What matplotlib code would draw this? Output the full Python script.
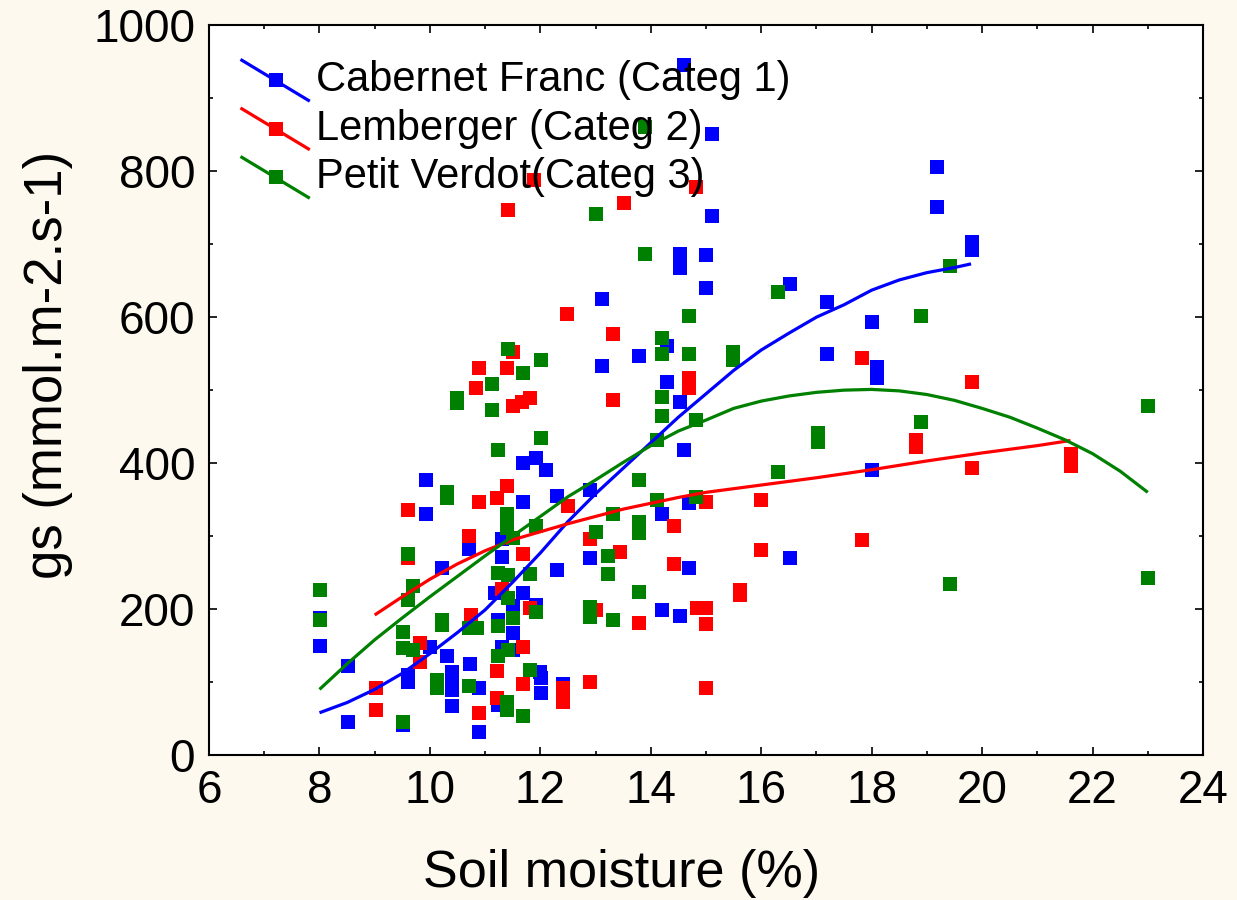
import matplotlib
matplotlib.use("Agg")
import matplotlib.pyplot as plt
from matplotlib.ticker import MultipleLocator

plt.rcParams['font.family'] = ['Liberation Sans', 'DejaVu Sans']

# Cabernet Franc (Categ 1)
cf_x = [13.11, 13.11, 9.92, 9.92, 11.68, 11.92, 12.10, 11.68, 12.31, 12.90, 11.30, 11.30,
        10.71, 10.21, 12.31, 12.90, 11.18, 11.68, 11.92, 11.50, 8.01, 11.23, 11.50, 8.01,
        10.00, 8.51, 10.31, 10.72, 11.30, 11.50, 9.60, 9.60, 10.40, 10.40, 10.40, 10.40,
        10.89, 11.23, 11.99, 12.02, 12.02, 12.41, 8.51, 9.51, 10.89,
        17.20, 18.00, 17.20, 18.10, 18.10, 14.29, 13.78, 14.29, 14.52, 14.60, 18.00, 14.20,
        14.70, 16.52, 14.70, 14.20, 14.52,
        19.19, 19.19, 19.81, 19.81, 15.10, 15.00, 15.00, 16.52,
        14.60, 15.10, 14.52, 14.52]
cf_y = [625, 533, 377, 330, 400, 407, 390, 347, 355, 363, 296, 271,
        282, 256, 253, 270, 222, 222, 206, 204, 188, 185, 167, 149,
        148, 122, 136, 125, 148, 144, 110, 100, 114, 103, 89, 67,
        92, 68, 114, 105, 85, 98, 45, 41, 32,
        621, 593, 549, 532, 516, 560, 547, 511, 484, 418, 390, 331,
        345, 270, 256, 199, 190,
        806, 751, 703, 692, 738, 685, 640, 645,
        945, 851, 687, 667]

# Lemberger (Categ 2)
lb_x = [12.49, 13.31, 11.50, 10.89, 11.40, 10.83, 11.50, 11.66, 11.81, 13.31, 11.40, 11.21,
        10.89, 9.60, 12.50, 10.71, 12.90, 9.60, 11.68, 13.45, 11.30, 11.81, 10.75, 9.82,
        11.68, 9.82, 9.02, 9.02, 11.21, 11.21, 10.89, 11.68, 12.41, 12.41, 12.90,
        14.70, 14.70, 17.82, 19.81, 18.80, 18.80, 19.81, 16.00, 15.00, 14.42, 16.00, 17.82,
        14.42, 15.61, 15.61, 13.00, 13.78, 14.83, 15.00, 15.00, 15.00, 21.61, 21.61,
        11.88, 14.81, 11.41, 13.51]
lb_y = [604, 577, 552, 530, 530, 503, 478, 484, 489, 486, 368, 352,
        347, 336, 341, 300, 296, 270, 275, 278, 228, 201, 192, 153,
        148, 128, 92, 62, 115, 78, 57, 97, 92, 73, 100,
        516, 503, 544, 511, 432, 422, 393, 349, 347, 314, 281, 295,
        262, 226, 219, 199, 181, 201, 201, 180, 92, 412, 396,
        788, 778, 747, 757]

# Petit Verdot (Categ 3)
pv_x = [11.41, 12.02, 11.68, 11.12, 10.49, 10.49, 11.12, 12.02, 11.23, 10.31, 10.31, 11.40,
        11.40, 11.50, 11.92, 13.00, 9.60, 9.69, 9.60, 8.01, 11.23, 11.41, 11.81, 13.22,
        13.22, 11.41, 11.92, 12.90, 12.90, 13.31, 8.01, 10.21, 10.21, 10.71, 10.85, 11.23,
        11.50, 9.51, 9.51, 9.69, 11.23, 11.41, 11.81, 10.12, 10.12, 10.71, 11.40, 11.40,
        11.68, 9.51,
        14.70, 18.90, 14.20, 14.20, 14.70, 15.48, 15.48, 14.20, 14.20, 14.81, 14.11, 18.90,
        17.02, 17.02, 13.78, 16.30, 14.11, 14.81, 13.31, 13.78, 13.78, 13.78, 19.41,
        19.41, 16.30, 23.00, 23.00,
        13.89, 13.00, 13.89]
pv_y = [557, 541, 523, 509, 489, 482, 473, 434, 418, 360, 352, 331,
        311, 297, 314, 306, 275, 232, 212, 226, 249, 247, 248, 273,
        248, 215, 196, 203, 189, 185, 185, 185, 178, 174, 174, 177,
        188, 168, 147, 144, 136, 144, 116, 103, 92, 95, 73, 62,
        53, 45,
        601, 601, 571, 550, 549, 552, 541, 491, 464, 459, 432, 456,
        441, 429, 377, 388, 349, 354, 330, 319, 304, 223, 234,
        670, 634, 478, 242,
        861, 741, 686]

# fitted curves
cf_fit_x = [8.0, 8.5, 9.0, 9.5, 10.0, 10.5, 11.0, 11.5, 12.0, 12.5, 13.0, 13.5, 14.0, 14.5,
            15.0, 15.5, 16.0, 16.5, 17.0, 17.5, 18.0, 18.5, 19.0, 19.5, 19.8]
cf_fit_y = [58, 72, 90, 112, 139, 168, 199, 237, 277, 320, 358, 393, 428, 463,
            495, 527, 555, 578, 600, 617, 637, 651, 661, 668, 673]
lb_fit_x = [9.0, 9.5, 10.0, 10.5, 11.0, 11.5, 12.0, 12.5, 13.0, 13.5, 14.0, 14.5, 15.0,
            16.0, 17.0, 18.0, 19.0, 20.0, 21.0, 21.6]
lb_fit_y = [192, 217, 241, 262, 280, 295, 306, 317, 327, 337, 345, 353, 360,
            370, 380, 391, 403, 414, 424, 431]
pv_fit_x = [8.0, 8.5, 9.0, 9.5, 10.0, 10.5, 11.0, 11.5, 12.0, 12.5, 13.0, 13.5, 14.0, 14.5,
            15.0, 15.5, 16.0, 16.5, 17.0, 17.5, 18.0, 18.5, 19.0, 19.5, 20.0, 20.5, 21.0,
            21.5, 22.0, 22.5, 23.0]
pv_fit_y = [90, 125, 158, 188, 217, 245, 273, 300, 327, 354, 377, 401, 424, 444,
            459, 475, 485, 492, 497, 500, 501, 499, 494, 486, 475, 463, 448,
            432, 413, 389, 360]

labels = ['Cabernet Franc (Categ 1)', 'Lemberger (Categ 2)', 'Petit Verdot(Categ 3)']
colors = ['#0000ff', '#ff0000', '#008000']

fig = plt.figure(figsize=(12.37, 9.0), dpi=100, facecolor='#fdf9ef')
ax = fig.add_axes([0.169, 0.161, 0.8035, 0.811])
ax.set_facecolor('white')

series = [(cf_x, cf_y, cf_fit_x, cf_fit_y), (lb_x, lb_y, lb_fit_x, lb_fit_y),
          (pv_x, pv_y, pv_fit_x, pv_fit_y)]
for (sx, sy, fx, fy), c in zip(series, colors):
    ax.plot(sx, sy, linestyle='none', marker='s', markersize=10.4, color=c,
            markeredgewidth=0, zorder=3)
for (sx, sy, fx, fy), c in zip(series, colors):
    ax.plot(fx, fy, color=c, linewidth=2.3, zorder=4, solid_capstyle='butt')

ax.set_xlim(6, 24)
ax.set_ylim(0, 1000)
ax.xaxis.set_major_locator(MultipleLocator(2))
ax.xaxis.set_minor_locator(MultipleLocator(1))
ax.yaxis.set_major_locator(MultipleLocator(200))
ax.yaxis.set_minor_locator(MultipleLocator(100))
ax.tick_params(which='both', direction='in', top=True, right=True, width=1.2,
               labelsize=33, colors='black')
ax.tick_params(which='major', length=5.5, pad=10)
ax.tick_params(which='minor', length=3)
for s in ax.spines.values():
    s.set_linewidth(1.5)

# axis titles placed like the original (not centred on the axes)
fig.text(622 / 1237, 1 - 887 / 900, 'Soil moisture (%)', fontsize=37.5,
         ha='center', va='baseline')
fig.text(48 / 1237, 1 - 365 / 900, 'gs (mmol.m-2.s-1)', fontsize=38,
         rotation=90, ha='center', va='center')

# legend drawn STATISTICA-style: slanted line with a square in the middle
for i, (lab, c) in enumerate(zip(labels, colors)):
    y0 = 0.952 - i * 0.0665
    ax.plot([0.033, 0.1], [y0, y0 - 0.055], color=c, linewidth=2.3,
            transform=ax.transAxes, zorder=5)
    ax.plot([0.0675], [y0 - 0.0275], marker='s', markersize=10.4, color=c,
            markeredgewidth=0, transform=ax.transAxes, zorder=5)
    ax.text(0.108, y0 - 0.0275, lab, fontsize=30, va='center', ha='left',
            transform=ax.transAxes, zorder=6)

fig.savefig('out.png', dpi=100, facecolor=fig.get_facecolor())
